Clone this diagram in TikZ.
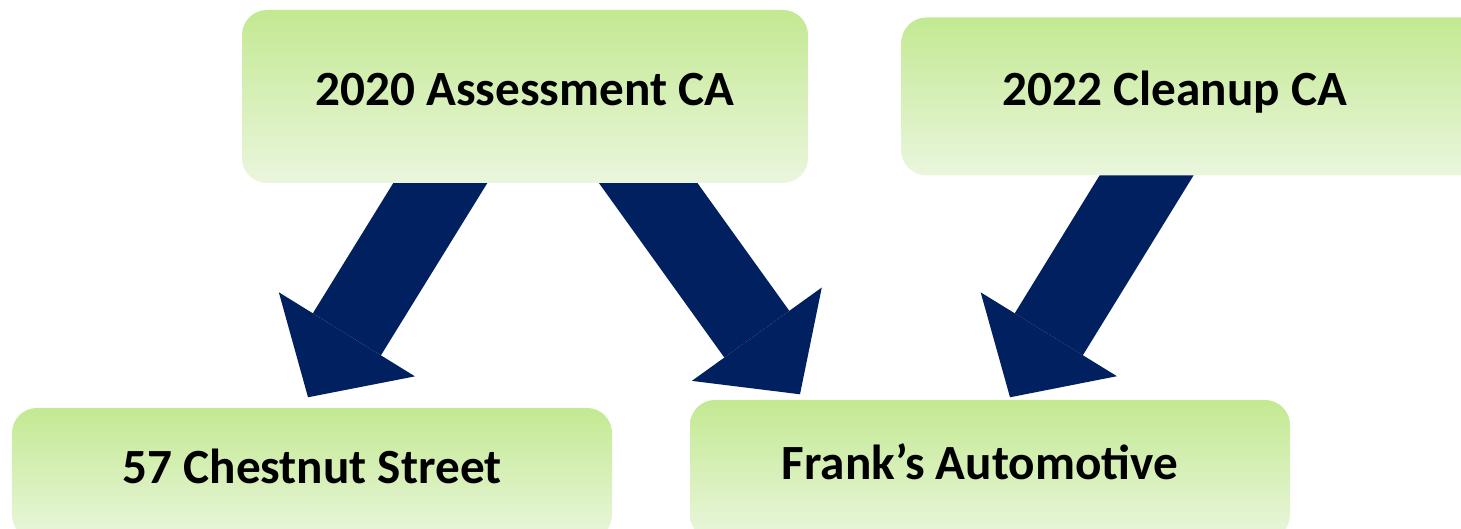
\documentclass[tikz,border=0pt]{standalone}
\usepackage{fontspec}
\setmainfont{Carlito}
\usetikzlibrary{arrows.meta, calc, positioning, backgrounds}
\definecolor{navy}{RGB}{0,32,96}
\definecolor{leaftop}{RGB}{195,233,146}
\definecolor{leafbot}{RGB}{234,246,221}

\begin{document}
\begin{tikzpicture}[
    box/.style={rounded corners=2.5mm, top color=leaftop, bottom color=leafbot,
        font=\fontsize{14pt}{17pt}\selectfont\bfseries,
        text height=3.2mm, text depth=1.3mm, inner sep=0pt},
    flow/.style={navy, line width=8mm, -{Triangle[length=7.4mm, width=16mm, line width=0pt]}},
    node distance=9.2mm]
        \useasboundingbox (0,0) rectangle (14.61,5.29);
        \clip (0,0) rectangle (14.61,5.29);

        \node[box, minimum width=56.6mm, minimum height=17.3mm] (assess) at (5.25,4.325) {2020 Assessment CA};
        \node[box, minimum width=60mm, minimum height=15.8mm, right=of assess] (cleanup) {2022 Cleanup CA\hspace{5.3mm}\null};
        \node[box, minimum width=60mm, minimum height=13.2mm] (chestnut) at (3.12,0.55) {57 Chestnut Street};
        \node[box, minimum width=60mm, minimum height=14mm] (franks) at (9.90,0.59) {Frank’s Automotive\hspace{2mm}\null};

        % arrows go under the boxes
        \begin{scope}[on background layer]
        \draw[flow] ($(assess.south)+(-0.604,0.4)$) -- ($(chestnut.north)+(-0.04,0.1)$);
        \draw[flow] ($(assess.south)+(0.949,0.4)$) -- ($(franks.north)+(-1.90,0.05)$);
        \draw[flow] ($(cleanup.south)+(-0.307,0.4)$) -- ($(franks.north)+(0.20,0.02)$);
        \end{scope}

        \end{tikzpicture}
\end{document}
